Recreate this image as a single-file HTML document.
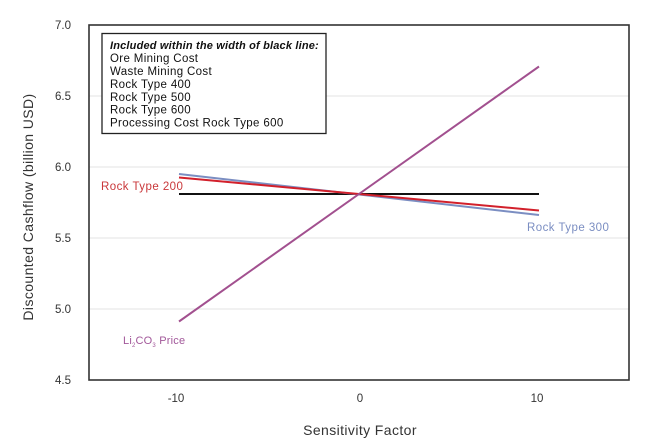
<!DOCTYPE html>
<html><head><meta charset="utf-8"><style>
html,body{margin:0;padding:0;background:#fff;}
svg{display:block;font-family:"Liberation Sans",sans-serif;}
</style></head><body>
<svg width="648" height="447" viewBox="0 0 648 447" xmlns="http://www.w3.org/2000/svg">
<rect width="648" height="447" fill="#fff"/>
<g stroke="#e3e3e3" stroke-width="1">
<line x1="89" y1="96" x2="629" y2="96"/>
<line x1="89" y1="167" x2="629" y2="167"/>
<line x1="89" y1="238" x2="629" y2="238"/>
<line x1="89" y1="309" x2="629" y2="309"/>
</g>
<rect x="89" y="25" width="540" height="355" fill="none" stroke="#333" stroke-width="1.6"/>
<g font-size="11.5" fill="#333" text-anchor="end">
<text x="71" y="29">7.0</text>
<text x="71" y="100">6.5</text>
<text x="71" y="171">6.0</text>
<text x="71" y="242">5.5</text>
<text x="71" y="313">5.0</text>
<text x="71" y="384">4.5</text>
</g>
<g font-size="11.5" fill="#333" text-anchor="middle">
<text x="176" y="402">-10</text>
<text x="360" y="402">0</text>
<text x="537" y="402">10</text>
</g>
<text x="360" y="435" font-size="14" letter-spacing="0.4" fill="#333" text-anchor="middle">Sensitivity Factor</text>
<text transform="translate(33,207) rotate(-90)" font-size="14" letter-spacing="0.4" fill="#333" text-anchor="middle">Discounted Cashflow (billion USD)</text>
<!-- series -->
<line x1="179" y1="194" x2="539" y2="194" stroke="#111" stroke-width="2"/>
<line x1="179" y1="174" x2="539" y2="215" stroke="#7b8ec2" stroke-width="2"/>
<line x1="179" y1="177.5" x2="539" y2="210.5" stroke="#d2202b" stroke-width="2"/>
<line x1="179" y1="321.5" x2="539" y2="66.5" stroke="#a2508f" stroke-width="2"/>
<!-- labels -->
<text x="101" y="190" font-size="11.5" letter-spacing="0.45" fill="#c9373a">Rock Type 200</text>
<text x="527" y="231" font-size="11.5" letter-spacing="0.45" fill="#7b8ec2">Rock Type 300</text>
<text x="123" y="344" font-size="11" letter-spacing="0.2" fill="#a2589a">Li<tspan font-size="6" dy="3">2</tspan><tspan dy="-3">CO</tspan><tspan font-size="6" dy="3">3</tspan><tspan dy="-3"> Price</tspan></text>
<!-- legend -->
<rect x="102" y="33.5" width="224" height="100" fill="#fff" stroke="#222" stroke-width="1.3"/>
<g font-size="11.5" fill="#111" letter-spacing="0.35">
<text x="110" y="49" font-size="11" letter-spacing="0.18" font-weight="bold" font-style="italic">Included within the width of black line:</text>
<text x="110" y="62">Ore Mining Cost</text>
<text x="110" y="75">Waste Mining Cost</text>
<text x="110" y="88">Rock Type 400</text>
<text x="110" y="101">Rock Type 500</text>
<text x="110" y="113.5">Rock Type 600</text>
<text x="110" y="126.5">Processing Cost Rock Type 600</text>
</g>
</svg>
</body></html>
